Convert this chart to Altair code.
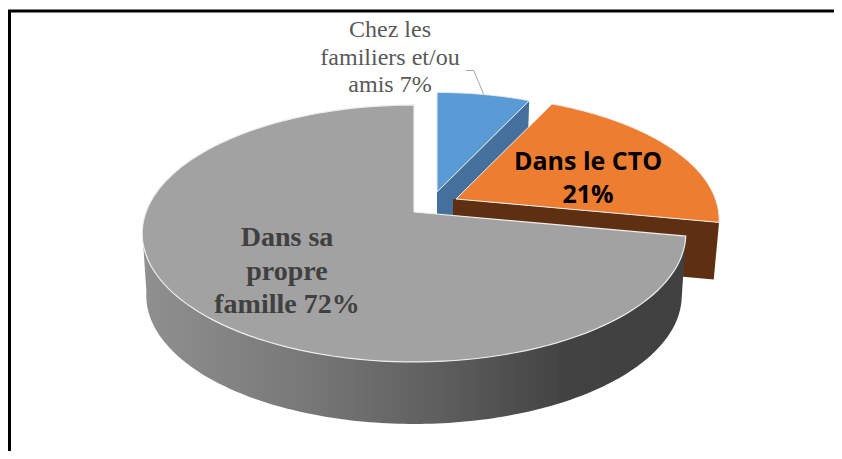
import numpy as np
import pandas as pd
import altair as alt

# --- values
categories = ["Chez les familiers et/ou amis", "Dans le CTO", "Dans sa propre famille"]
shares = [7, 21, 72]
top_colors = ["#5B9BD5", "#ED7D31", "#A2A2A2"]
wall_colors = ["#43709C", "#5F2F12"]

# --- layout of the tilted pie (page pixels), not data
CX, CY = 414, 212
R, A, K = 268, 124.9, 0.167
DEPTH = 60
SHIFT = [(23, -20), (42, -13), (0, 0)]
SCALE = [0.93, 0.968, 1.0]


def rim(theta_deg, i):
    t = np.radians(theta_deg)
    u, v = np.sin(t), np.cos(t)
    d = 1 + K * v
    return (CX + SHIFT[i][0] + SCALE[i] * R * u / d,
            CY + SHIFT[i][1] - SCALE[i] * A * v / d)


def rows(name, xs, ys):
    return pd.DataFrame({"k": name, "i": np.arange(len(xs)), "x": xs, "y": ys})


edges = np.concatenate([[0], np.cumsum(shares)]) * 3.6
X = alt.X("x:Q", scale=alt.Scale(domain=[8, 834], nice=False, zero=False), axis=None)
Y = alt.Y("y:Q", scale=alt.Scale(domain=[451, 8], nice=False, zero=False), axis=None)


def poly(df, fill, stroke=None, sw=0):
    kw = dict(filled=True, fill=fill, interpolate="linear", clip=True)
    if stroke:
        kw.update(stroke=stroke, strokeWidth=sw)
    else:
        kw.update(strokeWidth=0)
    return alt.Chart(df).mark_line(**kw).encode(x=X, y=Y, order=alt.Order("i:Q"))


def top(i):
    th = np.linspace(edges[i], edges[i + 1], 120)
    x, y = rim(th, i)
    ax, ay = CX + SHIFT[i][0], CY + SHIFT[i][1]
    return rows(categories[i], np.r_[ax, x, ax], np.r_[ay, y, ay])


def wall(i):
    ex, ey = rim(edges[i + 1], i)
    ax, ay = CX + SHIFT[i][0], CY + SHIFT[i][1]
    if i == 1:
        ax -= 3
    bx = ax + (ex - ax) * 0.98
    return rows(categories[i] + " wall",
                np.array([ax, ex, bx, ax, ax]),
                np.array([ay, ey, ey + DEPTH - 3, ay + DEPTH - 3, ay]))


def body():
    th = np.linspace(edges[2], 262, 160)
    x, y = rim(th, 2)
    bx = CX + (x - CX) * 0.985
    by = y + 62
    return rows("body", np.r_[x, bx[::-1], x[0]], np.r_[y, by[::-1], y[0]])


body_fill = alt.Gradient(
    gradient="linear", x1=0, x2=1, y1=0, y2=0,
    stops=[alt.GradientStop(offset=0, color="#909090"),
           alt.GradientStop(offset=0.3, color="#787878"),
           alt.GradientStop(offset=0.55, color="#5e5e5e"),
           alt.GradientStop(offset=0.78, color="#424242"),
           alt.GradientStop(offset=1, color="#404040")],
)

EDGE = "#EDEDED"
layers = [
    poly(wall(0), wall_colors[0]),
    poly(top(0), top_colors[0], EDGE, 1),
    poly(wall(1), wall_colors[1]),
    poly(top(1), top_colors[1], EDGE, 1),
    poly(body(), body_fill),
    poly(top(2), top_colors[2], EDGE, 1.2),
]

# leader line from the blue slice's rim
lx, ly = rim((edges[0] + edges[1]) / 2, 0)
leader = rows("leader", np.array([lx - 18, lx - 10, lx]), np.array([ly - 24, ly - 24, ly]))
layers.append(alt.Chart(leader).mark_line(color="#A6A6A6", strokeWidth=1).encode(
    x=X, y=Y, order=alt.Order("i:Q")))

# frame (top and left only)
layers.append(alt.Chart(pd.DataFrame({"a": [0]})).mark_rule(color="#000000", strokeWidth=3).encode(
    x=alt.value(0), x2=alt.value(826), y=alt.value(3)))
layers.append(alt.Chart(pd.DataFrame({"a": [0]})).mark_rule(color="#000000", strokeWidth=3).encode(
    x=alt.value(1.5), y=alt.value(2), y2=alt.value(443)))


def label(lines, x, baselines, **style):
    df = pd.DataFrame({"t": lines, "x": x, "y": baselines})
    return alt.Chart(df).mark_text(align="center", baseline="alphabetic", **style).encode(
        x=X, y=Y, text="t:N")


layers.append(label(["Chez les", "familiers et/ou", "amis 7%"], 390, [37, 65, 92],
                    font="Liberation Serif", fontSize=24, color="#595959"))
layers.append(label(["Dans le CTO", "21%"], 588, [170, 203],
                    font="Open Sans", fontSize=25, fontWeight="bold", color="#000000"))
layers.append(label(["Dans sa", "propre", "famille 72%"], 287, [246, 280, 313],
                    font="Liberation Serif", fontSize=28, fontWeight="bold", color="#404040"))

chart = alt.layer(*layers).properties(
    width=826, height=443, padding=0, background="#FFFFFF",
    autosize=alt.AutoSizeParams(type="none"),
).configure_view(stroke=None)

chart.save("out.html", embed_options={"renderer": "svg", "actions": False})
